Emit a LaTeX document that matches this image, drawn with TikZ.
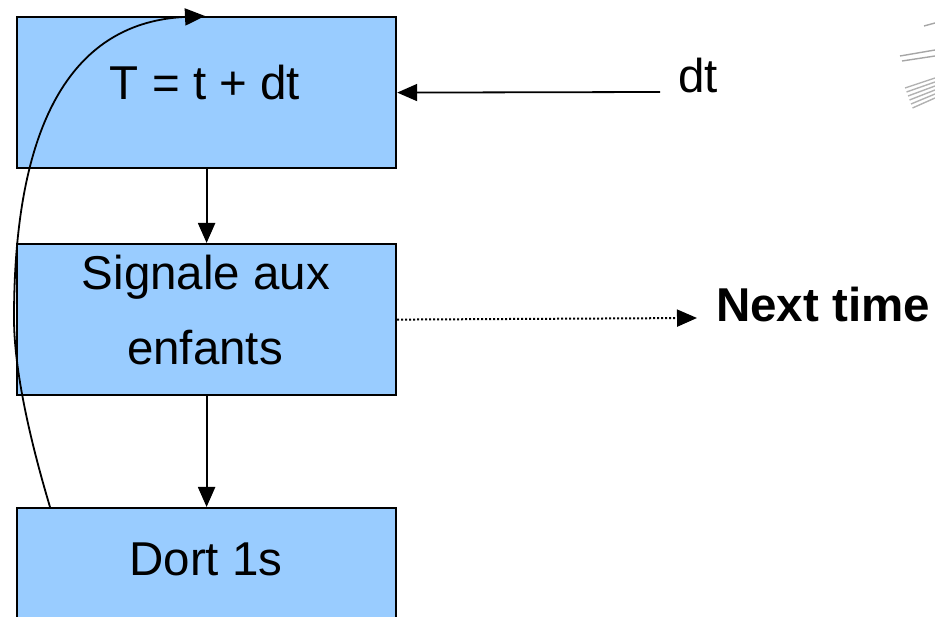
\documentclass[tikz,border=0pt]{standalone}
\usepackage{fontspec}
\setmainfont{Liberation Sans}
\usetikzlibrary{arrows.meta}
\definecolor{boxblue}{HTML}{99CCFF}
\begin{document}
\begin{tikzpicture}[x=1pt,y=-1pt,
  stepbox/.style={draw=black,line width=2.2pt,fill=boxblue,minimum width=379pt,minimum height=151pt,inner sep=0pt,anchor=north west},
  lbl/.style={anchor=base,inner sep=0pt,font=\fontsize{47.5}{55}\selectfont},
  conn/.style={line width=2.2pt,-{Triangle[length=20pt,width=17pt]}},
  scrib/.style={gray!70,line width=1.4pt}]
\useasboundingbox (0,0) rectangle (935,617);
\begin{scope}
\clip (0,0) rectangle (935,617);
% process boxes
\node[stepbox] (b1) at (16,16) {};
\node[stepbox] (b2) at (16,243) {};
\node[stepbox] (b3) at (16,507) {};
\end{scope}
% box texts
\node[lbl] (t1) at (205,100) {T = t + dt};
\node[lbl] (t2a) at (206,290) {Signale aux};
\node[lbl] (t2b) at (205,365) {enfants};
\node[lbl] (t3) at (206,575) {Dort 1s};
% side labels
\node[lbl,anchor=base west] (dt) at (678,93) {dt};
\node[lbl,anchor=base west,font=\fontsize{47.5}{55}\selectfont\bfseries] (next) at (716,322) {Next time};
% connectors
\draw[conn] (b1.south) -- (b2.north);
\draw[conn] (b2.south) -- (b3.north);
\coordinate (dtend) at (660,92);
\draw[conn,line width=1.8pt] (dtend) -- (b1.east);
\coordinate (nextend) at (697,318);
\draw[conn,line width=2pt,dotted] (b2.east) -- (nextend);
% loop back from the last box to the first
\coordinate (loopstart) at (50,507);
\coordinate (loopmid) at (14,318);
\coordinate (loopend) at (205,16);
\draw[conn,line width=1.8pt] (loopstart) .. controls (30,440) and (14,370) .. (loopmid)
  .. controls (14,118) and (75,22) .. (loopend);
% faint marks in the upper right corner
\draw[scrib] (924,26) -- (935,23);
\draw[scrib] (900,56) -- (935,50);
\draw[scrib] (902,61) -- (935,56);
\foreach \i in {0,...,5}{
  \draw[scrib,gray!60] (905+\i*1.5,88+\i*4) -- (935,78+\i*4);
}
\end{tikzpicture}
\end{document}
